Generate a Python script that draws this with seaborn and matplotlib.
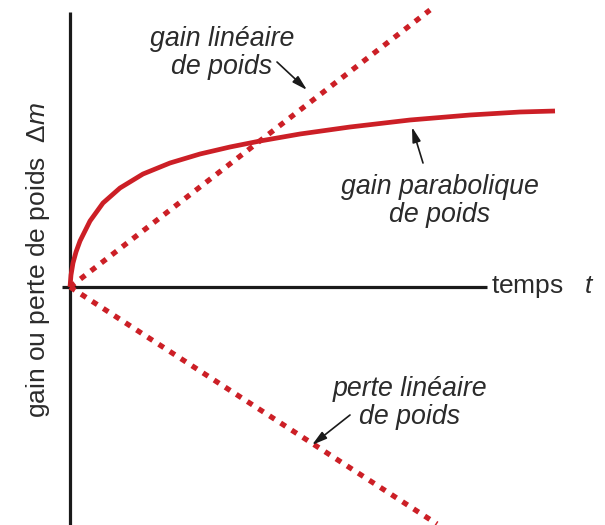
import numpy as np
import pandas as pd
import matplotlib
matplotlib.use('Agg')
import matplotlib.pyplot as plt
import seaborn as sns

sns.set_style('white')
plt.rcParams['font.family'] = ['Liberation Sans', 'DejaVu Sans']
plt.rcParams['mathtext.fontset'] = 'custom'
plt.rcParams['mathtext.rm'] = 'Liberation Sans'
plt.rcParams['mathtext.it'] = 'Liberation Sans:italic'

# Data (arbitrary units, origin at the axis crossing)
t_para = [0, 1, 3, 6, 10, 20, 33, 50, 73, 100, 130, 160, 190, 230, 280, 340, 400, 450, 485]
m_para = [0, 12, 24, 35, 46, 66, 84, 99, 113, 124, 133, 140, 146, 153, 160, 167, 172, 175, 176]
t_lin = [0, 360]
m_gain = [0, 277]
t_loss = [0, 367]
m_loss = [0, -237]

red = '#cc1f26'
txt = '#2b2b2b'

fig = plt.figure(figsize=(6.05, 5.25), dpi=100)
ax = fig.add_axes([0, 0, 1, 1])
ax.set_xlim(-70, 535)
ax.set_ylim(-238, 287)
ax.axis('off')

# axes lines
ax.axvline(0, ymin=0, ymax=(525 - 12) / 525, color='#1a1a1a', lw=2.3, zorder=1)
ax.hlines(0, -8, 417, color='#1a1a1a', lw=2.3, zorder=1)

dots = (0, (1.15, 1.35))
sns.lineplot(x=t_lin, y=m_gain, ax=ax, color=red, lw=3.8, linestyle=dots, zorder=3)
sns.lineplot(x=t_loss, y=m_loss, ax=ax, color=red, lw=3.8, linestyle=dots, zorder=3)
sns.lineplot(x=t_para, y=m_para, ax=ax, color=red, lw=3.4, sort=False, zorder=4)
for l in ax.lines:
    l.set_dash_capstyle('butt')
    l.set_solid_capstyle('butt')
    l.set_solid_joinstyle('round')

arrow = dict(arrowstyle='-|>,head_length=0.9,head_width=0.25', color='#1a1a1a', lw=1.2,
             shrinkA=0, shrinkB=0)
kw = dict(fontsize=19.3, style='italic', color=txt, ha='center', va='center',
          multialignment='center', linespacing=1.1)

ax.text(152, 234, 'gain linéaire\nde poids', **kw)
ax.annotate('', xy=(237, 197), xytext=(207, 225), arrowprops=arrow)

ax.text(370, 86, 'gain parabolique\nde poids', **kw)
ax.annotate('', xy=(342, 160), xytext=(353, 124), arrowprops=arrow)

ax.text(340, -116, 'perte linéaire\nde poids', **kw)
ax.annotate('', xy=(242, -158), xytext=(280, -128), arrowprops=arrow)

ax.text(421, 0, 'temps   $t$', fontsize=19, color=txt, ha='left', va='center')
ax.text(-32, 27, 'gain ou perte de poids  $\\Delta m$', fontsize=19, color=txt,
        rotation=90, ha='center', va='center')

fig.savefig('out.png', dpi=100)
